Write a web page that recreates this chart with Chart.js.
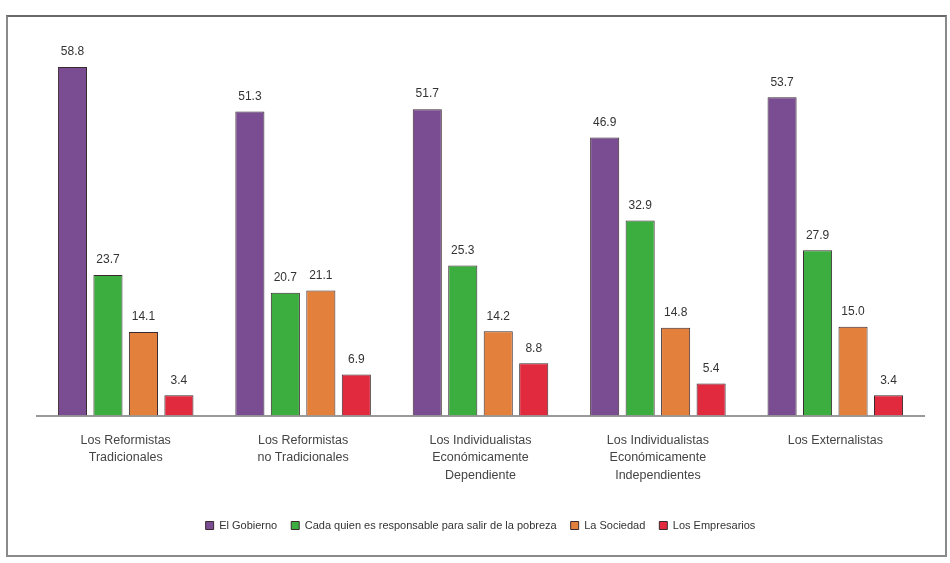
<!DOCTYPE html>
<html>
<head>
<meta charset="utf-8">
<script src="https://cdn.jsdelivr.net/npm/chart.js@4.4.0/dist/chart.umd.min.js"></script>
<style>
  html, body { margin: 0; padding: 0; background: #fff; }
  #frame {
    position: absolute; left: 6px; top: 15px;
    width: 937px; height: 538px;
    border: 2px solid #8a8a8a;
    border-top-color: #6a6a6a;
  }
</style>
</head>
<body>
<div id="frame"><canvas id="chart"></canvas></div>
<script>
const categories = [
    ['Los Reformistas', 'Tradicionales'],
    ['Los Reformistas', 'no Tradicionales'],
    ['Los Individualistas', 'Económicamente', 'Dependiente'],
    ['Los Individualistas', 'Económicamente', 'Independientes'],
    'Los Externalistas'
]
const seriesNames = [
    'El Gobierno',
    'Cada quien es responsable para salir de la pobreza',
    'La Sociedad',
    'Los Empresarios'
]
const gobierno = [58.8, 51.3, 51.7, 46.9, 53.7]
const cadaQuien = [23.7, 20.7, 25.3, 32.9, 27.9]
const sociedad = [14.1, 21.1, 14.2, 14.8, 15.0]
const empresarios = [3.4, 6.9, 8.8, 5.4, 3.4]

const colors = ['#7a4d92', '#3cae3f', '#e3803c', '#e12a3e']

// etiquetas de valor sobre las barras
const valueLabels = {
    id: 'valueLabels',
    afterDatasetsDraw(chart) {
        const ctx = chart.ctx
        ctx.save()
        ctx.font = '12px "Liberation Sans", Arial, sans-serif'
        ctx.fillStyle = '#333'
        ctx.textAlign = 'center'
        ctx.textBaseline = 'bottom'
        chart.data.datasets.forEach((ds, i) => {
            chart.getDatasetMeta(i).data.forEach((bar, j) => {
                ctx.fillText(ds.data[j].toFixed(1), bar.x, bar.y - 9)
            })
        })
        ctx.restore()
    }
}

const seriesData = [gobierno, cadaQuien, sociedad, empresarios]

new Chart(document.getElementById('chart'), {
    type: 'bar',
    data: {
        labels: categories,
        datasets: seriesNames.map((name, i) => ({
            label: name,
            data: seriesData[i],
            backgroundColor: colors[i],
            borderColor: '#3a2a30',
            borderWidth: 1,
            categoryPercentage: 0.8,
            barPercentage: 0.82
        }))
    },
    options: {
        responsive: true,
        maintainAspectRatio: false,
        animation: false,
        layout: {padding: {left: 29, right: 21, top: 43, bottom: 14}},
        scales: {
            y: {
                display: false,
                min: 0,
                max: 60
            },
            x: {
                grid: {display: false},
                border: {display: true, color: '#999', width: 2},
                ticks: {
                    color: '#444',
                    padding: 8,
                    font: {size: 12.5, lineHeight: 1.4, family: '"Liberation Sans", Arial, sans-serif'}
                },
                afterFit: (axis) => { axis.height += 14 }
            }
        },
        plugins: {
            tooltip: {enabled: false},
            legend: {
                position: 'bottom',
                labels: {
                    boxWidth: 8,
                    boxHeight: 8,
                    padding: 14,
                    color: '#333',
                    font: {size: 11, family: '"Liberation Sans", Arial, sans-serif'}
                }
            }
        }
    },
    plugins: [valueLabels]
})
</script>
</body>
</html>
